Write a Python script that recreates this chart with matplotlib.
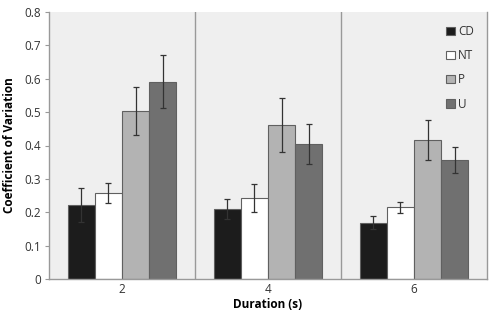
import matplotlib
matplotlib.use("Agg")
import matplotlib.pyplot as plt
import numpy as np

groups = ["2", "4", "6"]
series = ["CD", "NT", "P", "U"]
values = {
    "CD": [0.222, 0.209, 0.169],
    "NT": [0.257, 0.242, 0.215],
    "P": [0.503, 0.461, 0.416],
    "U": [0.591, 0.404, 0.357],
}
errors = {
    "CD": [0.050, 0.030, 0.020],
    "NT": [0.030, 0.042, 0.017],
    "P": [0.072, 0.080, 0.060],
    "U": [0.080, 0.060, 0.040],
}
colors = {"CD": "#1c1c1c", "NT": "#ffffff", "P": "#b3b3b3", "U": "#707070"}
yticks = [0, 0.1, 0.2, 0.3, 0.4, 0.5, 0.6, 0.7, 0.8]
yticklabels = ["0", "0.1", "0.2", "0.3", "0.4", "0.5", "0.6", "0.7", "0.8"]

plt.rcParams['font.family'] = ['Open Sans', 'DejaVu Sans']

fig = plt.figure(figsize=(4.95, 3.17), dpi=100)
ax = fig.add_axes([49/495, 1 - 279/317, (487-49)/495, (279-12)/317])
ax.set_facecolor("#efefef")

x = np.arange(len(groups))
w = 0.185
for i, s in enumerate(series):
    pos = x + (i - 1.5) * w
    ax.bar(pos, values[s], width=w, color=colors[s], edgecolor="#606060",
           linewidth=0.8, label=s, zorder=2)
    ax.errorbar(pos, values[s], yerr=errors[s], fmt="none", ecolor="#333333",
                elinewidth=0.9, capsize=2, capthick=0.9, zorder=3)

for sep in [0.5, 1.5]:
    ax.axvline(sep, color="#999999", linewidth=1, zorder=1)

ax.set_xlim(-0.5, 2.5)
ax.set_ylim(0, 0.8)
ax.set_xticks(x)
ax.set_xticklabels(groups, fontsize=8.5, color="#333333")
ax.set_yticks(yticks)
ax.set_yticklabels(yticklabels, fontsize=8.5, color="#333333")
ax.tick_params(axis="x", length=0, pad=3)
ax.tick_params(axis="y", length=3, color="#999999", pad=3)

for sp in ["left", "bottom", "right"]:
    ax.spines[sp].set_color("#999999")
    ax.spines[sp].set_linewidth(1)
ax.spines["top"].set_visible(False)

ax.set_ylabel("Coefficient of Variation", fontsize=8.5, fontweight="bold", labelpad=6)
ax.set_xlabel("Duration (s)", fontsize=8.5, fontweight="bold", labelpad=1)

leg = ax.legend(loc="upper right", frameon=False, fontsize=8.5, handlelength=0.7,
                handleheight=0.7, handletextpad=0.3, labelspacing=0.95,
                borderaxespad=0.7)
for t in leg.get_texts():
    t.set_color("#333333")

fig.savefig("out.png", dpi=100, facecolor="white")
